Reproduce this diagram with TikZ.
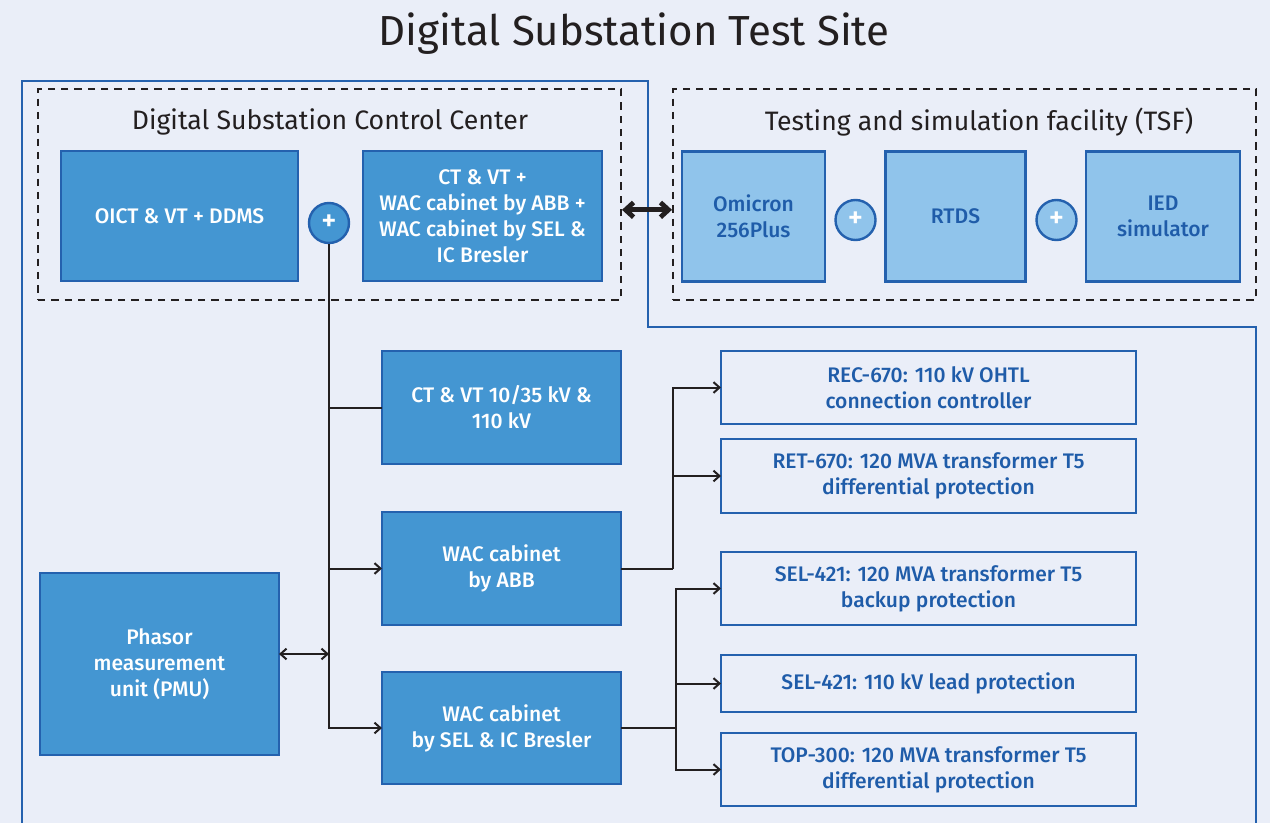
\documentclass[tikz,border=0pt]{standalone}
\usepackage{fontspec}
\setmainfont{Fira Sans}[UprightFont=* Medium]
\newfontfamily\titlefont{Fira Sans}
\usetikzlibrary{arrows.meta}
\definecolor{bg}{HTML}{EAEEF8}
\definecolor{dfill}{HTML}{4496D2}
\definecolor{bline}{HTML}{2461AE}
\definecolor{lfill}{HTML}{90C4EB}
\definecolor{btext}{HTML}{1F5CA9}
\definecolor{ink}{HTML}{231F20}
\begin{document}
\begin{tikzpicture}[x=0.75pt,y=-0.75pt,
  wh/.style 2 args={minimum width=#1*0.75pt, minimum height=#2*0.75pt},
  boxtxt/.style={font=\fontsize{15.8}{19.4}\selectfont, align=center, inner sep=0pt, outer sep=0pt},
  darkbox/.style={boxtxt, draw=bline, line width=1.8pt, fill=dfill, text=white},
  lightbox/.style={boxtxt, draw=bline, line width=1.8pt, fill=lfill, text=btext},
  outbox/.style={boxtxt, draw=bline, line width=1.8pt, fill=bg, text=btext},
  plusdark/.style={circle, draw=bline, line width=1.8pt, fill=dfill, text=white, minimum size=30pt, inner sep=0pt, font=\fontsize{22}{22}\selectfont},
  pluslight/.style={plusdark, fill=lfill},
  dashbox/.style={draw=ink, line width=1.5pt, dash pattern=on 5.5pt off 4.5pt, inner sep=0pt},
  sectitle/.style={font=\titlefont\fontsize{20}{24}\selectfont, text=ink},
  conn/.style={draw=ink, line width=1.5pt, -{Straight Barb[length=4.5pt,width=8pt]}},
  plain/.style={draw=ink, line width=1.5pt},
  bigarrow/.style={draw=ink, line width=3.6pt, {Straight Barb[length=6pt,width=11pt]}-{Straight Barb[length=6pt,width=11pt]}},
  frame/.style={draw=bline, line width=1.5pt}
]
\fill[bg] (0,0) rectangle (1270,823);
\useasboundingbox (0,0) rectangle (1270,823);

\node[font=\titlefont\fontsize{31.5}{38}\selectfont, text=ink] (title) at (634,34) {Digital Substation Test Site};

% outer frame
\draw[frame] (22,830) -- (22,81) -- (648,81) -- (648,327) -- (1256,327) -- (1256,830);

% dashed groups
\node[dashbox, wh={583}{211}] (dscc) at (329.5,194.5) {};
\node[dashbox, wh={583}{211}] (tsf) at (964.5,194.5) {};
\node[sectitle] (dscct) at (330,122) {Digital Substation Control Center};
\node[sectitle] (tsft) at (979,122) {Testing and simulation facility (TSF)};

% control center boxes
\node[darkbox, wh={237}{130}] (oict) at (179.5,216) {OICT \& VT + DDMS};
\node[darkbox, wh={239}{130}] (ctvt) at (482.5,216) {CT \& VT +\\WAC cabinet by ABB +\\WAC cabinet by SEL \&\\IC Bresler};
\node[plusdark] (p1) at (329,223) {+};

% TSF boxes
\node[lightbox, wh={143}{130}] (omi) at (753.5,216.5) {Omicron\\256Plus};
\node[lightbox, wh={140}{130}] (rtds) at (955.5,216.5) {RTDS};
\node[lightbox, wh={154}{130}] (ied) at (1163,216.5) {IED\\simulator};
\node[pluslight] (p2) at (855.5,220) {+};
\node[pluslight] (p3) at (1056.5,220) {+};

\draw[bigarrow] ([yshift=-11.5pt]dscc.east) -- ([yshift=-11.5pt]tsf.west);

% middle column
\node[darkbox, wh={239}{113}] (ctvt2) at (501.5,407.5) {CT \& VT 10/35 kV \&\\110 kV};
\node[darkbox, wh={239}{113}] (wacabb) at (501.5,568.5) {WAC cabinet\\by ABB};
\node[darkbox, wh={239}{112}] (wacsel) at (501.5,728) {WAC cabinet\\by SEL \& IC Bresler};
\node[darkbox, wh={239}{182}] (pmu) at (159.5,664) {Phasor\\measurement\\unit (PMU)};

% right column
\node[outbox, wh={415}{73}] (rec) at (928.5,387.5) {REC-670: 110 kV OHTL\\connection controller};
\node[outbox, wh={415}{74}] (ret) at (928.5,476) {RET-670: 120 MVA transformer T5\\differential protection};
\node[outbox, wh={415}{73}] (selb) at (928.5,588.5) {SEL-421: 120 MVA transformer T5\\backup protection};
\node[outbox, wh={415}{57}] (sell) at (928.5,683.5) {SEL-421: 110 kV lead protection};
\node[outbox, wh={415}{73}] (top) at (928.5,769.5) {TOP-300: 120 MVA transformer T5\\differential protection};

% trunk
\draw[conn] (p1.south) |- (wacsel.west);
\draw[plain] (p1.south |- ctvt2.west) -- (ctvt2.west);
\draw[conn] (p1.south |- wacabb.west) -- (wacabb.west);
\draw[conn, {Straight Barb[length=4.5pt,width=8pt]}-{Straight Barb[length=4.5pt,width=8pt]}] ([yshift=7.5pt]pmu.east) -- ([yshift=7.5pt]pmu.east -| p1.south);

% ABB branch
\coordinate (j1) at (673,0);
\draw[plain] (wacabb.east) -- (j1 |- wacabb.east);
\draw[conn] (j1 |- wacabb.east) |- (rec.west);
\draw[conn] (j1 |- ret.west) -- (ret.west);

% SEL branch
\coordinate (j2) at (676,0);
\draw[plain] (wacsel.east) -- (j2 |- wacsel.east);
\draw[conn] (j2 |- wacsel.east) |- (selb.west);
\draw[conn] (j2 |- wacsel.east) |- (top.west);
\draw[conn] (j2 |- sell.west) -- (sell.west);
\end{tikzpicture}
\end{document}
